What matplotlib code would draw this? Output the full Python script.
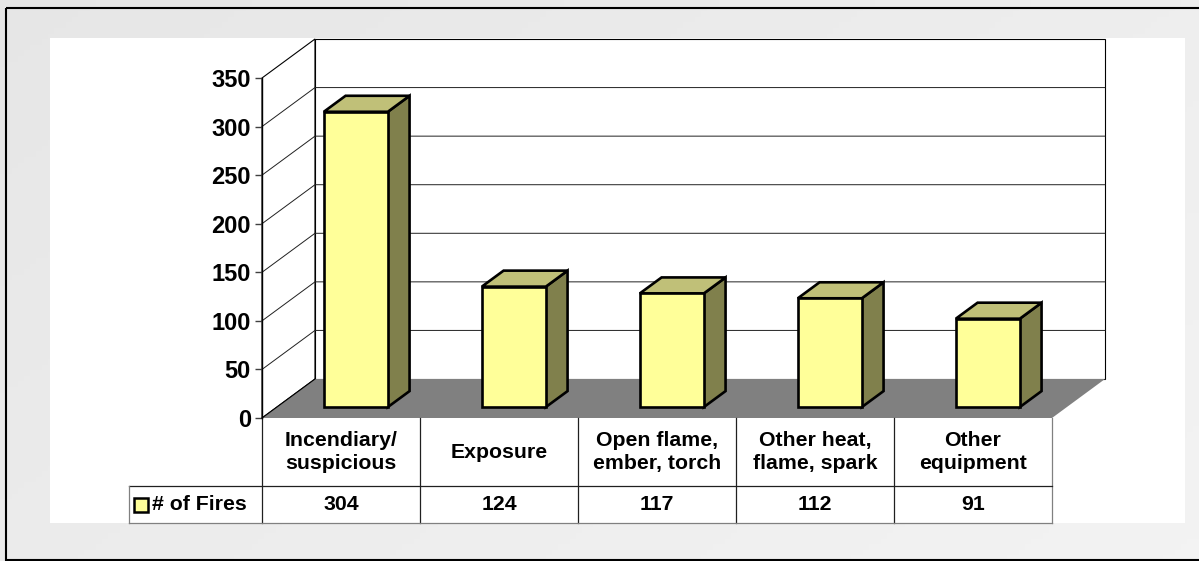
import numpy as np
import matplotlib
matplotlib.use("Agg")
import matplotlib.pyplot as plt
from matplotlib.patches import Polygon, Rectangle

plt.rcParams["font.family"] = ["Liberation Sans", "DejaVu Sans"]
plt.rcParams["font.weight"] = "bold"

# data
categories = ["Incendiary/\nsuspicious", "Exposure", "Open flame,\nember, torch",
              "Other heat,\nflame, spark", "Other\nequipment"]
fires = [304, 124, 117, 112, 91]
series_name = "# of Fires"
yticks = [0, 50, 100, 150, 200, 250, 300, 350]

FRONT, TOP, SIDE = "#ffff99", "#c0c078", "#80804c"
FLOOR = "#808080"

W, H = 1199, 561
fig = plt.figure(figsize=(W / 100, H / 100), dpi=100)

# background frame (pixel coords)
bg = fig.add_axes([0, 0, 1, 1])
bg.set_xlim(0, W)
bg.set_ylim(H, 0)
bg.axis("off")
gx, gy = np.meshgrid(np.linspace(0, 1, 200), np.linspace(0, 1, 100))
grad = 0.90 + 0.05 * (0.6 * gx + 0.4 * gy)
bg.imshow(grad, cmap="gray", vmin=0, vmax=1, extent=(0, W, H, 0), aspect="auto")
# frame runs off the right edge of the picture
bg.add_patch(Rectangle((6, 8), W + 10, 552, fill=False, ec="black", lw=1.5))
bg.add_patch(Rectangle((50, 38), 1135, 485, fc="white", ec="none"))

# front plane of the 3D chart
x0, x1, y_top, y_bot = 262, 1052, 78, 418
ax = fig.add_axes([x0 / W, (H - y_bot) / H, (x1 - x0) / W, (y_bot - y_top) / H])
ax.set_facecolor("none")
n = len(categories)
ax.set_xlim(0, n)
ax.set_ylim(0, 350)
PXX = (x1 - x0) / n           # px per category
PXY = (y_bot - y_top) / 350   # px per value unit
DX, DY = 53 / PXX, 39 / PXY   # depth vector in data units

for s in ["top", "right", "bottom"]:
    ax.spines[s].set_visible(False)
ax.spines["left"].set_linewidth(1.0)
ax.spines["left"].set_zorder(6)
ax.set_xticks([])
ax.set_yticks(yticks)
ax.tick_params(axis="y", direction="out", length=5, width=1, pad=3, labelsize=17,
               color="#404040")
for t in ax.get_yticklabels():
    t.set_fontweight("bold")

# walls
ax.add_patch(Polygon([(0, 0), (0, 350), (DX, 350 + DY), (DX, DY)],
                     closed=True, fc="white", ec="black", lw=0.8, zorder=1, clip_on=False))
ax.add_patch(Polygon([(DX, DY), (DX, 350 + DY), (n + DX, 350 + DY), (n + DX, DY)],
                     closed=True, fc="white", ec="black", lw=0.8, zorder=1, clip_on=False))
for v in yticks[1:-1]:
    ax.plot([0, DX, n + DX], [v, v + DY, v + DY], color="#202020", lw=0.7,
            zorder=1.5, clip_on=False)
ax.add_patch(Polygon([(0, 0), (n, 0), (n + DX, DY), (DX, DY)], closed=True,
                     fc=FLOOR, ec="none", zorder=2, clip_on=False))
ax.plot([0, DX], [0, DY], color="black", lw=0.8, zorder=2.1, clip_on=False)

# bars
f1, f2 = 0.28, 0.69
bw = 0.405
for i, v in enumerate(fires):
    xl = i + 0.5 - bw / 2 + f1 * DX
    xr = xl + bw
    yb = f1 * DY
    yt = yb + v
    ddx, ddy = (f2 - f1) * DX, (f2 - f1) * DY
    kw = dict(closed=True, ec="black", lw=1.9, joinstyle="miter", zorder=3 + i * 0.01,
              clip_on=False)
    ax.add_patch(Polygon([(xr, yb), (xr, yt), (xr + ddx, yt + ddy), (xr + ddx, yb + ddy)],
                         fc=SIDE, **kw))
    ax.add_patch(Polygon([(xl, yt), (xr, yt), (xr + ddx, yt + ddy), (xl + ddx, yt + ddy)],
                         fc=TOP, **kw))
    ax.add_patch(Polygon([(xl, yb), (xr, yb), (xr, yt), (xl, yt)], fc=FRONT, **kw))

# data table below
r1 = -68 / PXY
r2 = -105 / PXY
leg_l = -(262 - 129) / PXX
line = dict(lw=0.9, zorder=4, clip_on=False)
for k in range(n + 1):
    ax.plot([k, k], [0, r2], color="#808080" if k == n else "#202020", **line)
ax.plot([leg_l, n], [r1, r1], color="#202020", **line)
ax.plot([leg_l, n], [r2, r2], color="#808080", **line)
ax.plot([leg_l, leg_l], [r1, r2], color="#808080", **line)
for i, (c, v) in enumerate(zip(categories, fires)):
    ax.text(i + 0.5, r1 / 2, c, ha="center", va="center", fontsize=15.3,
            fontweight="bold", linespacing=1.3, clip_on=False)
    ax.text(i + 0.5, (r1 + r2) / 2, str(v), ha="center", va="center",
            fontsize=15.3, fontweight="bold", clip_on=False)
sq = 14
ax.add_patch(Rectangle((leg_l + 5 / PXX, (r1 + r2) / 2 - sq / 2 / PXY), sq / PXX, sq / PXY,
                       fc=FRONT, ec="black", lw=1.8, zorder=5, clip_on=False))
ax.text(leg_l + 23 / PXX, (r1 + r2) / 2, series_name, ha="left", va="center",
        fontsize=15.3, fontweight="bold", clip_on=False)

fig.savefig("out.png", dpi=100)
